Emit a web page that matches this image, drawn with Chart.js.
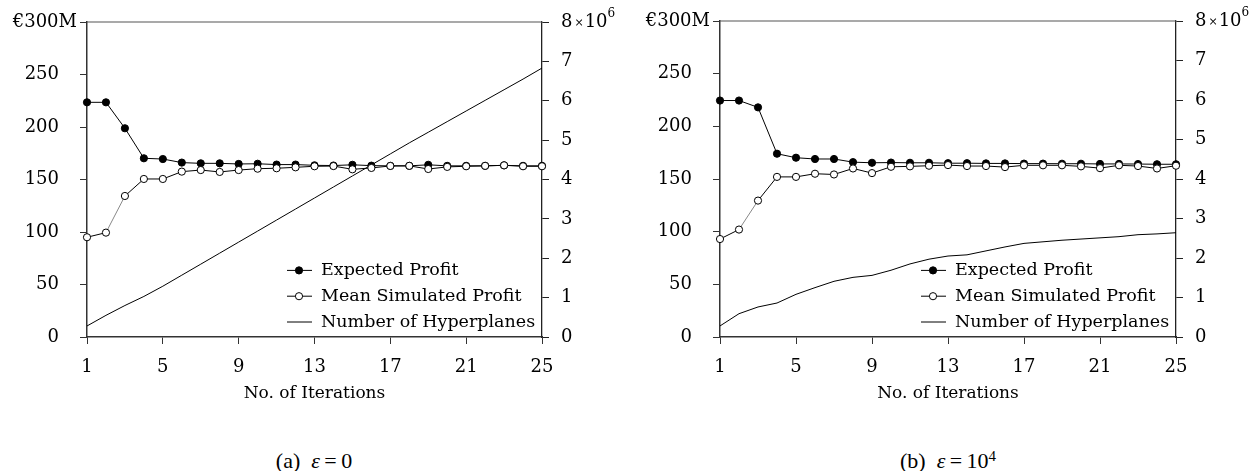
<!DOCTYPE html>
<html>
<head>
<meta charset="utf-8">
<script src="https://cdn.jsdelivr.net/npm/chart.js@4/dist/chart.umd.min.js"></script>
<style>
    body { margin: 0; background: #fff; }
    #wrap { position: relative; width: 1252px; height: 471px; overflow: hidden; }
    canvas { position: absolute; top: 0; }
    .caption { position: absolute; top: 449px; width: 240px; text-align: center;
               font-family: 'Liberation Serif', serif; font-size: 22px; line-height: 24px; color: #000; }
    .caption sup { font-size: 15px; line-height: 0; vertical-align: 7px; }
</style>
</head>
<body>
<div id="wrap">
    <canvas id="chartA" width="626" height="410" style="left:0"></canvas>
    <canvas id="chartB" width="626" height="410" style="left:626px"></canvas>
    <div class="caption" style="left:194px">(a)&nbsp;&nbsp;<i>ε</i>&thinsp;=&thinsp;0</div>
    <div class="caption" style="left:828px">(b)&nbsp;&nbsp;<i>ε</i>&thinsp;=&thinsp;10<sup>4</sup></div>
</div>
<script>
// Data
var iterations = ['1', '2', '3', '4', '5', '6', '7', '8', '9', '10', '11', '12', '13',
                  '14', '15', '16', '17', '18', '19', '20', '21', '22', '23', '24', '25'];
var seriesNames = ['Expected Profit', 'Mean Simulated Profit', 'Number of Hyperplanes'];

// (a) epsilon = 0   (profit in €M, hyperplanes in 10^6)
var expectedA = [223.5, 223.5, 198.8, 170.2, 169.5, 166.1, 165.4, 165.4, 164.8, 165.0, 164.2, 164.2, 163.5,
                 163.3, 164.0, 163.2, 163.0, 163.0, 164.0, 163.0, 163.0, 163.0, 163.5, 163.0, 163.0];
var meanA = [95.0, 99.4, 134.3, 150.5, 150.5, 157.5, 159.0, 157.2, 159.0, 160.3, 160.7, 161.6, 162.6,
             162.8, 159.7, 161.0, 162.9, 163.0, 160.0, 162.0, 162.6, 163.0, 163.5, 162.6, 162.6];
var hyperA = [0.28, 0.55, 0.80, 1.03, 1.29, 1.57, 1.85, 2.13, 2.41, 2.69, 2.97, 3.25, 3.53,
              3.81, 4.09, 4.37, 4.65, 4.93, 5.20, 5.47, 5.74, 6.01, 6.28, 6.55, 6.83];

// (b) epsilon = 10^4
var expectedB = [224.5, 224.5, 218.0, 174.0, 170.2, 169.0, 169.0, 166.0, 165.4, 165.6, 165.4, 165.4, 165.0,
                 165.0, 164.8, 164.8, 164.6, 164.6, 164.5, 164.5, 164.3, 164.3, 164.2, 164.0, 164.0];
var meanB = [93.0, 102.0, 129.5, 152.0, 152.0, 155.0, 154.3, 160.0, 155.6, 161.6, 162.0, 162.6, 163.2,
             162.3, 162.3, 161.3, 163.0, 163.0, 163.0, 162.0, 160.3, 163.0, 162.3, 160.0, 162.6];
var hyperB = [0.28, 0.59, 0.76, 0.86, 1.08, 1.25, 1.41, 1.51, 1.56, 1.69, 1.85, 1.97, 2.05,
              2.08, 2.18, 2.28, 2.37, 2.41, 2.45, 2.48, 2.51, 2.54, 2.59, 2.61, 2.64];

var profitTop = '€300M';
var hyperTopExp = '6';

Chart.defaults.font.family = "'DejaVu Serif', serif";
Chart.defaults.font.size = 18;
Chart.defaults.color = '#000';

// frame top line, top tick labels and the in-plot legend
var extras = {
    id: 'extras',
    afterDraw: function (chart) {
        var c = chart.ctx, a = chart.chartArea;
        var y = chart.scales.y, y1 = chart.scales.y1;
        c.save();
        c.strokeStyle = '#555';
        c.lineWidth = 1.2;
        c.beginPath();
        c.moveTo(a.left, a.top);
        c.lineTo(a.right, a.top);
        c.stroke();

        c.fillStyle = '#000';
        c.textBaseline = 'middle';
        c.font = "18px 'DejaVu Serif'";
        c.textAlign = 'right';
        c.fillText(profitTop, a.left - 10, y.getPixelForValue(300));

        var ty = y1.getPixelForValue(8);
        var tx = a.right + 19;
        c.textAlign = 'left';
        c.fillText('8', tx, ty);
        tx += c.measureText('8').width + 2;
        c.font = "11px 'DejaVu Serif'";
        c.fillText('×', tx, ty + 1);
        tx += c.measureText('×').width + 1;
        c.font = "18px 'DejaVu Serif'";
        c.fillText('10', tx, ty);
        tx += c.measureText('10').width;
        c.font = "12px 'DejaVu Serif'";
        c.fillText(hyperTopExp, tx, ty - 8);

        // legend
        var lx = a.right - 221;
        chart.data.datasets.forEach(function (ds, i) {
            var ly = a.bottom - 15 - (2 - i) * 25.8;
            c.strokeStyle = ds.borderColor;
            c.lineWidth = 1;
            c.beginPath();
            c.moveTo(lx - 34, ly);
            c.lineTo(lx - 9, ly);
            c.stroke();
            if (ds.pointRadius > 0) {
                c.beginPath();
                c.arc(lx - 22, ly, ds.pointRadius, 0, Math.PI * 2);
                c.fillStyle = ds.pointBackgroundColor;
                c.fill();
                c.stroke();
            }
            c.fillStyle = '#000';
            c.font = "17.5px 'DejaVu Serif'";
            c.textAlign = 'left';
            c.fillText(ds.label, lx, ly);
        });
        c.restore();
    }
};

function noPad(s) {
    s.paddingTop = 0;
    s.paddingBottom = 0;
}

function makeChart(id, expected, mean, hyper, leftW, rightW, top) {
    var ctx = document.getElementById(id);
    return new Chart(ctx, {
        type: 'line',
        data: {
            labels: iterations,
            datasets: [{
                label: seriesNames[0],
                data: expected,
                yAxisID: 'y',
                borderColor: '#000',
                borderWidth: 1,
                pointRadius: 3.6,
                pointBackgroundColor: '#000',
                pointBorderColor: '#000',
                pointBorderWidth: 1,
                order: 1
            }, {
                label: seriesNames[1],
                data: mean,
                yAxisID: 'y',
                borderColor: '#000',
                borderWidth: 1,
                pointRadius: 3.6,
                pointBackgroundColor: '#fff',
                pointBorderColor: '#000',
                pointBorderWidth: 1,
                segment: {
                    borderColor: function (s) { return s.p0DataIndex === 1 ? '#888' : '#000'; }
                },
                order: 0
            }, {
                label: seriesNames[2],
                data: hyper,
                yAxisID: 'y1',
                borderColor: '#000',
                borderWidth: 1,
                pointRadius: 0,
                order: 2
            }]
        },
        options: {
            responsive: false,
            animation: false,
            events: [],
            clip: false,
            layout: { padding: { top: top, left: 0, right: 0, bottom: 0 } },
            plugins: { legend: { display: false }, tooltip: { enabled: false } },
            scales: {
                x: {
                    type: 'category',
                    offset: false,
                    afterFit: function (s) { s.height = 73; },
                    border: { color: '#333', width: 1.5 },
                    grid: {
                        drawOnChartArea: false,
                        tickLength: 7,
                        tickColor: function (c) { return c.index % 4 === 0 ? '#333' : 'rgba(0,0,0,0)'; }
                    },
                    ticks: {
                        autoSkip: false,
                        maxRotation: 0,
                        padding: 13,
                        callback: function (v, i) { return i % 4 === 0 ? this.getLabelForValue(v) : ''; }
                    },
                    title: { display: true, text: 'No. of Iterations', font: { size: 17 }, padding: { top: 2, bottom: 6 } }
                },
                y: {
                    position: 'left',
                    min: 0,
                    max: 300,
                    afterFit: function (s) { s.width = leftW; noPad(s); },
                    border: { color: '#333', width: 1.5 },
                    grid: { drawOnChartArea: false, tickLength: 7, tickColor: '#333' },
                    ticks: {
                        stepSize: 50,
                        padding: 21,
                        callback: function (v) { return v === 300 ? '' : v; }
                    }
                },
                y1: {
                    position: 'right',
                    min: 0,
                    max: 8,
                    afterFit: function (s) { s.width = rightW; noPad(s); },
                    border: { color: '#222', width: 1.3 },
                    grid: { drawOnChartArea: false, tickLength: 7, tickColor: '#222' },
                    ticks: {
                        stepSize: 1,
                        padding: 12,
                        callback: function (v) { return v === 8 ? '' : v; }
                    }
                }
            }
        },
        plugins: [extras]
    });
}

var chartA = makeChart('chartA', expectedA, meanA, hyperA, 87, 84, 22);
var chartB = makeChart('chartB', expectedB, meanB, hyperB, 94, 76, 21);
</script>
</body>
</html>
